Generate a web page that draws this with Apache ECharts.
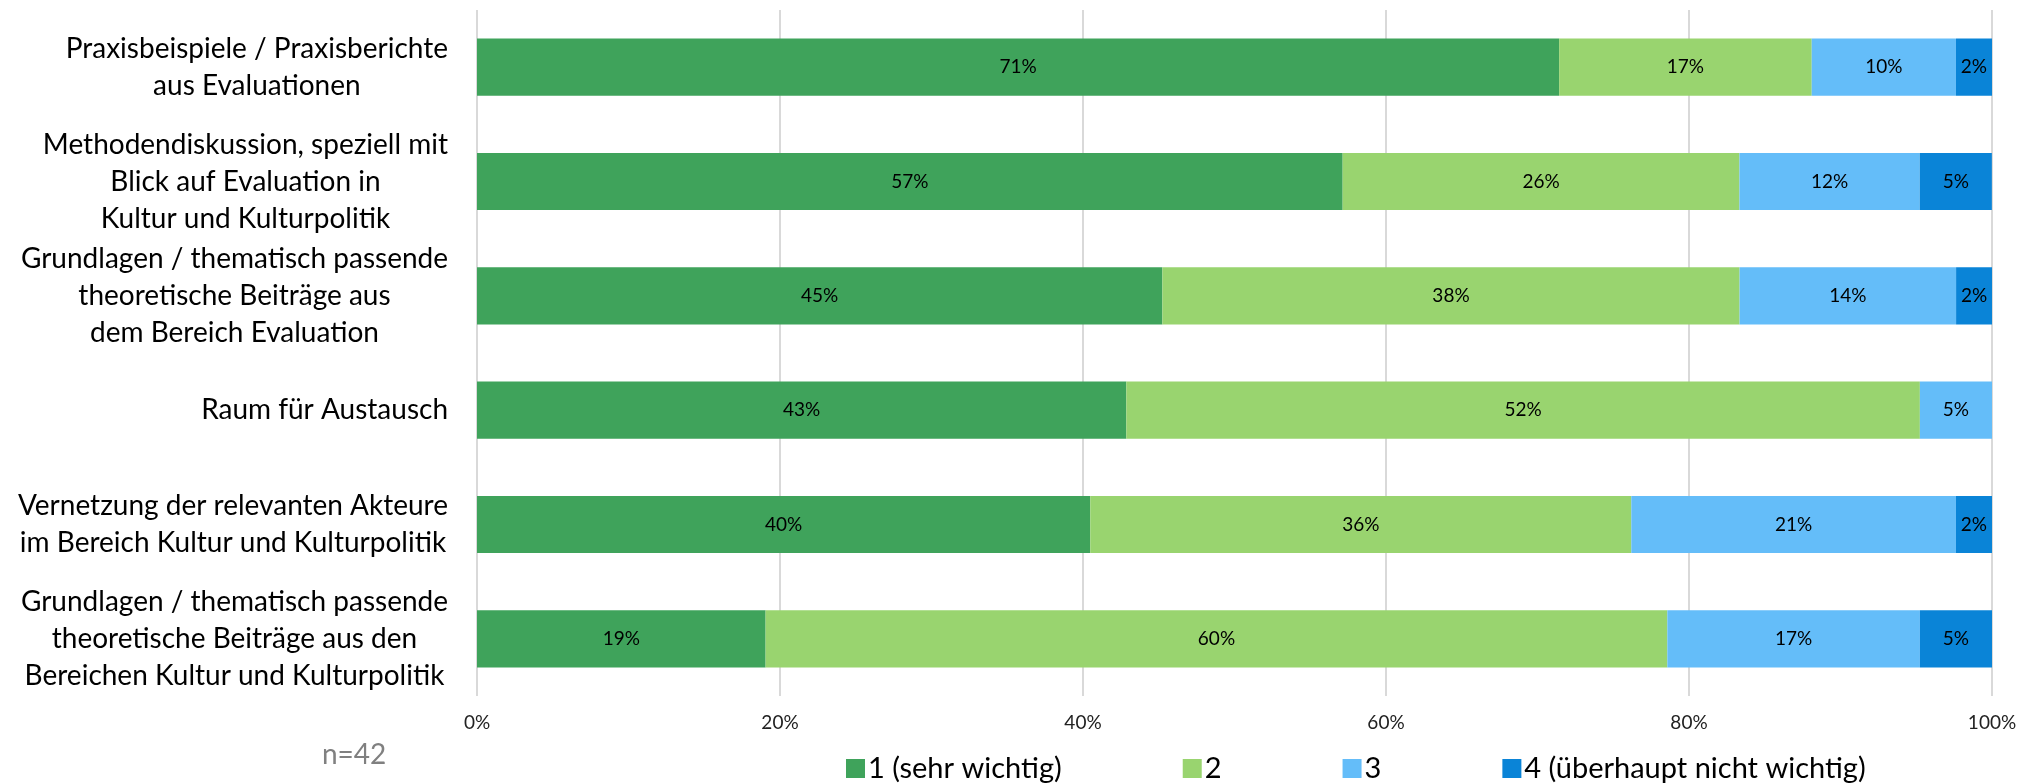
<!DOCTYPE html>
<html>
<head>
<meta charset="utf-8">
<script src="https://cdn.jsdelivr.net/npm/echarts@6/dist/echarts.min.js"></script>
<style>
html,body{margin:0;padding:0;background:#fff;}
#chart{width:2035px;height:783px;}
</style>
</head>
<body>
<div id="chart"></div>
<script>
const categories = [
  "Praxisbeispiele / Praxisberichte\naus Evaluationen",
  "Methodendiskussion, speziell mit\nBlick auf Evaluation in\nKultur und Kulturpolitik",
  "Grundlagen / thematisch passende\ntheoretische Beiträge aus\ndem Bereich Evaluation",
  "Raum für Austausch",
  "Vernetzung der relevanten Akteure\nim Bereich Kultur und Kulturpolitik",
  "Grundlagen / thematisch passende\ntheoretische Beiträge aus den\nBereichen Kultur und Kulturpolitik"
];
const seriesNames = ["1 (sehr wichtig)", "2", "3", "4 (überhaupt nicht wichtig)"];
const values1 = [71.43, 57.14, 45.24, 42.86, 40.48, 19.05];
const values2 = [16.67, 26.19, 38.10, 52.38, 35.71, 59.52];
const values3 = [9.52, 11.90, 14.29, 4.76, 21.43, 16.67];
const values4 = [2.38, 4.76, 2.38, 0, 2.38, 4.76];
const colors = ["#3fa35b", "#99d46f", "#64bdf9", "#0a84d7"];
const xTicks = { min: 0, max: 100, interval: 20 };
const noteText = "n=42";

const FONT = "Lato";
const allValues = [values1, values2, values3, values4];

const chart = echarts.init(document.getElementById('chart'), null, {renderer: 'canvas'});
chart.setOption({
  animation: false,
  textStyle: { fontFamily: FONT },
  title: {
    text: noteText,
    left: 322,
    top: 741,
    padding: 0,
    textStyle: { color: '#808080', fontSize: 28, fontWeight: 'normal', fontFamily: FONT }
  },
  legend: {
    data: seriesNames,
    left: 846,
    top: 754,
    padding: 0,
    icon: 'rect',
    itemWidth: 19,
    itemHeight: 19,
    itemGap: 121,
    textStyle: { fontSize: 29, color: '#000', fontFamily: FONT, padding: [0, 0, 0, -2] }
  },
  grid: { left: 477, right: 43, top: 10, bottom: 87, containLabel: false },
  xAxis: {
    type: 'value',
    min: xTicks.min, max: xTicks.max, interval: xTicks.interval,
    axisLine: { show: false },
    axisTick: { show: false },
    splitLine: { show: true, lineStyle: { color: '#d9d9d9', width: 2 } },
    axisLabel: { formatter: '{value}%', fontSize: 19, color: '#222', margin: 17, fontFamily: FONT }
  },
  yAxis: {
    type: 'category',
    inverse: true,
    data: categories,
    axisLine: { show: false },
    axisTick: { show: false },
    axisLabel: {
      margin: 29,
      formatter: function (v) { return '{c|' + v + '}'; },
      rich: {
        c: { align: 'center', fontSize: 28, lineHeight: 37, color: '#000', fontFamily: FONT }
      }
    }
  },
  series: allValues.map(function (vals, i) {
    return {
      name: seriesNames[i],
      type: 'bar',
      stack: 'total',
      barWidth: '50%',
      data: vals,
      itemStyle: { color: colors[i] },
      label: {
        show: true,
        position: 'inside',
        fontSize: 19,
        color: '#000',
        fontFamily: FONT,
        formatter: function (p) { return p.value > 0 ? Math.round(p.value) + '%' : ''; }
      }
    };
  })
});
</script>
</body>
</html>
